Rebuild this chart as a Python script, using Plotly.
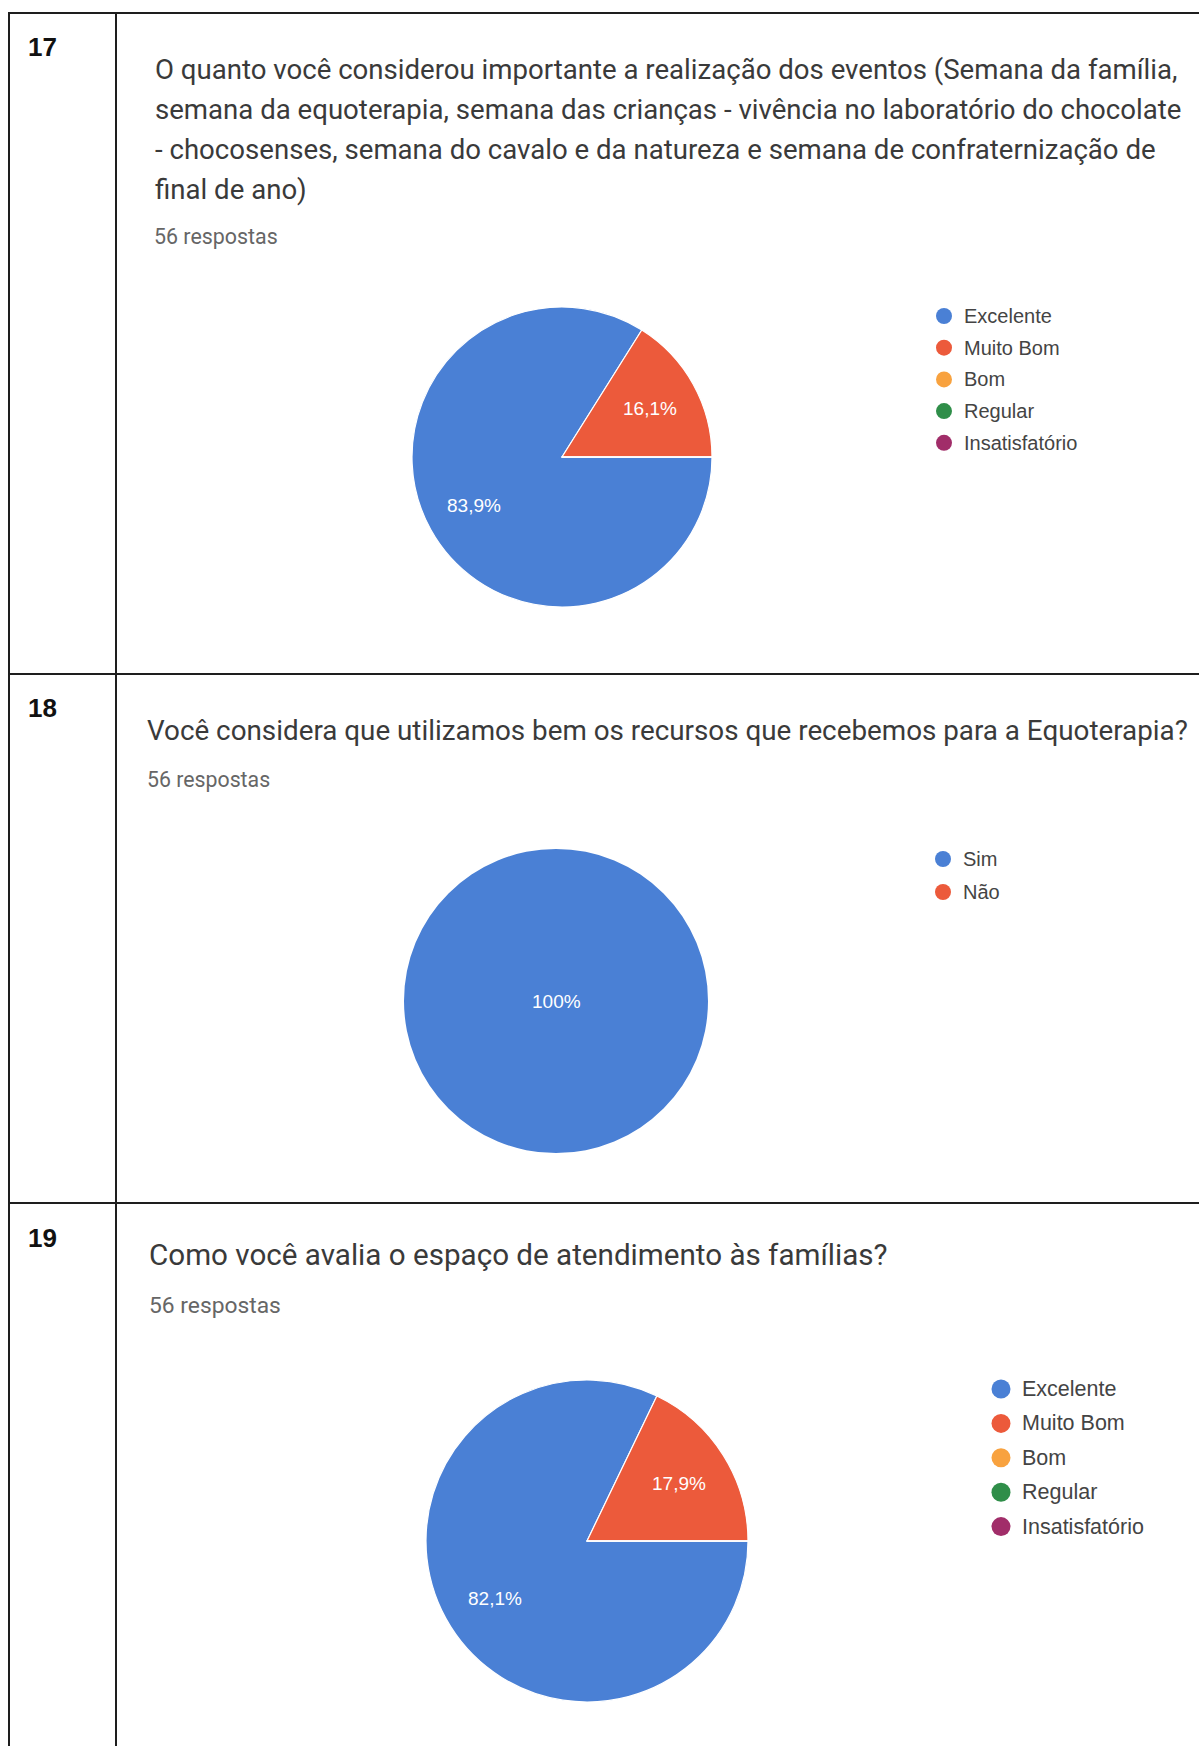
import math
import plotly.graph_objects as go

W, H = 1199, 1746

# ---------------- data ----------------
q_numbers = ["17", "18", "19"]
q17_title_lines = [
    "O quanto você considerou importante a realização dos eventos (Semana da família,",
    "semana da equoterapia, semana das crianças - vivência no laboratório do chocolate",
    "- chocosenses, semana do cavalo e da natureza e semana de confraternização de",
    "final de ano)",
]
q18_title_lines = ["Você considera que utilizamos bem os recursos que recebemos para a Equoterapia?"]
q19_title_lines = ["Como você avalia o espaço de atendimento às famílias?"]
responses_label = "56 respostas"

rating_labels = ["Excelente", "Muito Bom", "Bom", "Regular", "Insatisfatório"]
q17_counts = [47, 9, 0, 0, 0]
q19_counts = [46, 10, 0, 0, 0]
yesno_labels = ["Sim", "Não"]
q18_counts = [56, 0]

rating_colors = ["#4a80d5", "#ec5a3b", "#f8a23f", "#2f8e49", "#a12d69"]
yesno_colors = ["#4a80d5", "#ec5a3b"]

# ---------------- layout constants (pixels) ----------------
TITLE_FONT = "Roboto"
LEG_FONT = "Liberation Sans, Arial"
line_color = "#1e1e1e"

sections = [
    dict(num_y=47, title_x=153, title_y0=69, title_dy=40, title_fs=27.6, sub_y=236, sub_x=152, sub_fs=21.4,
         pie_c=(562, 457), pie_r=150,
         leg_x=944, leg_y0=316, leg_dy=31.7, leg_fs=20, leg_ms=16, leg_gap=10,
         labels=rating_labels, counts=q17_counts, colors=rating_colors,
         title=q17_title_lines, decimals=1),
    dict(num_y=708, title_x=145, title_y0=730, title_dy=40, title_fs=27.8, sub_y=779, sub_x=145, sub_fs=21.3,
         pie_c=(556, 1001), pie_r=152,
         leg_x=943, leg_y0=859, leg_dy=33, leg_fs=20, leg_ms=16, leg_gap=10,
         labels=yesno_labels, counts=q18_counts, colors=yesno_colors,
         title=q18_title_lines, decimals=0),
    dict(num_y=1238, title_x=147, title_y0=1255, title_dy=40, title_fs=29.6, sub_y=1305, sub_x=147, sub_fs=22.8,
         pie_c=(587, 1541), pie_r=161,
         leg_x=1001, leg_y0=1389, leg_dy=34.4, leg_fs=21.5, leg_ms=19, leg_gap=9,
         labels=rating_labels, counts=q19_counts, colors=rating_colors,
         title=q19_title_lines, decimals=1),
]

START_ANGLE = 90      # first slice starts at 3 o'clock, going clockwise
LABEL_RADIUS = 0.673  # label distance from centre, as a fraction of the radius

fig = go.Figure()
annotations = []
shapes = []

# table borders
border_w = 2
for (x0, y0, x1, y1) in [
    (8, 13, W, 13),        # top
    (9, 13, 9, H),         # left
    (116, 13, 116, H),     # column divider
    (8, 674, W, 674),      # row divider 1
    (8, 1203, W, 1203),    # row divider 2
]:
    shapes.append(dict(type="line", xref="x", yref="y", x0=x0, y0=y0, x1=x1, y1=y1,
                       line=dict(color=line_color, width=border_w)))


def fmt_pct(frac, decimals):
    return ("{:.%df}%%" % decimals).format(frac * 100).replace(".", ",")


for num, s in zip(q_numbers, sections):
    # question number
    annotations.append(dict(x=26, y=s["num_y"], xref="x", yref="y", text="<b>%s</b>" % num,
                            showarrow=False, xanchor="left", yanchor="middle",
                            font=dict(family="Liberation Sans, Arial", size=26, color="#111111")))
    # title lines
    for i, line in enumerate(s["title"]):
        annotations.append(dict(x=s["title_x"], y=s["title_y0"] + i * s["title_dy"], xref="x", yref="y",
                                text=line, showarrow=False, xanchor="left", yanchor="middle",
                                font=dict(family=TITLE_FONT, size=s["title_fs"], color="#3a3a3a")))
    # responses
    annotations.append(dict(x=s["sub_x"], y=s["sub_y"], xref="x", yref="y",
                            text=responses_label, showarrow=False, xanchor="left", yanchor="middle",
                            font=dict(family=TITLE_FONT, size=s["sub_fs"], color="#666666")))

    # pie
    cx, cy = s["pie_c"]
    r = s["pie_r"]
    total = float(sum(s["counts"]))
    full = max(s["counts"]) == total
    fig.add_trace(go.Pie(
        labels=s["labels"], values=s["counts"],
        marker=dict(colors=s["colors"], line=dict(color="white", width=0 if full else 1.2)),
        sort=False, direction="clockwise", rotation=START_ANGLE,
        textinfo="none",
        domain=dict(x=[(cx - r) / W, (cx + r) / W], y=[(H - cy - r) / H, (H - cy + r) / H]),
        showlegend=False, hoverinfo="label+percent",
    ))
    # slice percentage labels, placed along each slice's mid angle
    cum = 0.0
    for v in s["counts"]:
        frac = v / total
        if v > 0:
            mid = math.radians(START_ANGLE + (cum + frac / 2) * 360)
            k = 0 if frac >= 1 else LABEL_RADIUS
            annotations.append(dict(
                x=cx + k * r * math.sin(mid), y=cy - k * r * math.cos(mid), xref="x", yref="y",
                text=fmt_pct(frac, s["decimals"]), showarrow=False,
                xanchor="center", yanchor="middle",
                font=dict(family=LEG_FONT, size=19, color="white")))
        cum += frac

    # legend (markers + labels)
    ys = [s["leg_y0"] + i * s["leg_dy"] for i in range(len(s["labels"]))]
    fig.add_trace(go.Scatter(
        x=[s["leg_x"]] * len(s["labels"]), y=ys, mode="markers",
        marker=dict(size=s["leg_ms"], color=s["colors"], line=dict(width=0)),
        showlegend=False, hoverinfo="skip", xaxis="x", yaxis="y",
    ))
    for lab, yy in zip(s["labels"], ys):
        annotations.append(dict(x=s["leg_x"] + s["leg_ms"] / 2 + s["leg_gap"], y=yy, xref="x", yref="y",
                                text=lab, showarrow=False, xanchor="left", yanchor="middle",
                                font=dict(family=LEG_FONT, size=s["leg_fs"], color="#444444")))

fig.update_layout(
    width=W, height=H,
    margin=dict(l=0, r=0, t=0, b=0, pad=0),
    paper_bgcolor="white", plot_bgcolor="rgba(0,0,0,0)",
    separators=",.",
    xaxis=dict(range=[0, W], visible=False, fixedrange=True),
    yaxis=dict(range=[H, 0], visible=False, fixedrange=True),
    annotations=annotations,
    shapes=shapes,
    showlegend=False,
)

fig.write_html("out.html", config={"displayModeBar": False},
               post_script="document.body.style.margin='0';")
